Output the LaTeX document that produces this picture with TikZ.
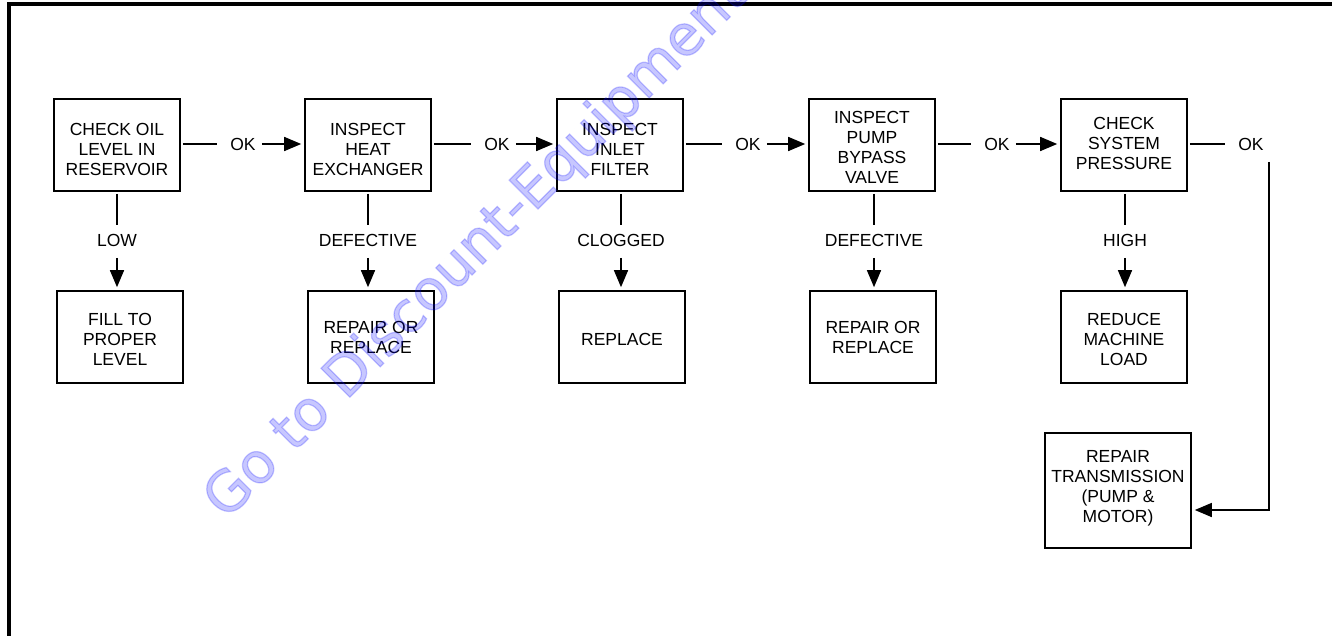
\documentclass[tikz,border=0pt]{standalone}
\usepackage{fontspec}
\setmainfont{Liberation Sans}
\newfontfamily\wmfont[FakeBold=2.2]{DejaVu Sans}
\usetikzlibrary{arrows.meta}
\begin{document}
\begin{tikzpicture}[x=1pt,y=-1pt,
  box/.style={draw, line width=1.6pt, minimum width=126pt, minimum height=92pt,
    inner sep=0pt, align=center, font=\fontsize{17.5}{20}\selectfont},
  txtup/.style={text depth=#1},
  txtdown/.style={text height=#1},
  lbl/.style={inner sep=0pt, font=\fontsize{17.5}{20}\selectfont},
  con/.style={line width=1.5pt},
  arr/.style={line width=1.5pt, -{Triangle[length=17pt,width=14pt]}},
  frame/.style={line width=4pt}]
\useasboundingbox (0,0) rectangle (1332,636);
\clip (0,0) rectangle (1332,636);
% frame
\draw[frame] (9,640) -- (9,4.5) -- (1336,4.5);
% top row
\node[box, txtdown=60.6pt] (c1) at (117,145) {CHECK OIL\\LEVEL IN\\RESERVOIR};
\node[box, txtdown=60.6pt] (c2) at (368,145) {INSPECT\\HEAT\\EXCHANGER};
\node[box, txtdown=60.6pt] (c3) at (620,145) {INSPECT\\INLET\\FILTER};
\node[box, txtdown=76.6pt] (c4) at (872,145) {INSPECT\\PUMP\\BYPASS\\VALVE};
\node[box, txtup=4pt] (c5) at (1124,145) {CHECK\\SYSTEM\\PRESSURE};
% bottom row
\node[box, txtdown=56.6pt] (r1) at (120,337) {FILL TO\\PROPER\\LEVEL};
\node[box] (r2) at (371,337) {REPAIR OR\\REPLACE};
\node[box, txtdown=16.6pt] (r3) at (622,337) {REPLACE};
\node[box] (r4) at (873,337) {REPAIR OR\\REPLACE};
\node[box, txtdown=56.6pt] (r5) at (1124,337) {REDUCE\\MACHINE\\LOAD};
\node[box, txtup=9pt, minimum width=146pt, minimum height=115pt] (t) at (1118,490.5)
  {REPAIR\\TRANSMISSION\\(PUMP \&\\MOTOR)};
% OK labels
\node[lbl] (k1) at (243,144) {OK};
\node[lbl] (k2) at (497,144) {OK};
\node[lbl] (k3) at (748,144) {OK};
\node[lbl] (k4) at (997,144) {OK};
\node[lbl] (k5) at (1251,144) {OK};
% vertical labels
\node[lbl] (l1) at (117,240) {LOW};
\node[lbl] (l2) at (368,240) {DEFECTIVE};
\node[lbl] (l3) at (621,240) {CLOGGED};
\node[lbl] (l4) at (874,240) {DEFECTIVE};
\node[lbl] (l5) at (1125,240) {HIGH};
% horizontal connectors
\foreach \a/\k/\b in {c1/k1/c2, c2/k2/c3, c3/k3/c4, c4/k4/c5} {
  \draw[con, shorten <=2pt, shorten >=13pt] (\a.east |- \k) -- (\k.west);
  \draw[arr, shorten <=6pt, shorten >=3pt] (\k.east) -- (\b.west |- \k);
}
\draw[con, shorten <=2pt, shorten >=13pt] (c5.east |- k5) -- (k5.west);
% vertical connectors
\foreach \i in {1,...,5} {
  \draw[con, shorten <=2pt, shorten >=8.5pt] (l\i |- c\i.south) -- (l\i.north);
  \draw[arr, shorten <=11.5pt, shorten >=3pt] (l\i.south) -- (l\i |- r\i.north);
}
% final OK path
\coordinate (v5) at (1269,162);
\coordinate (bend) at (1269,510);
\draw[arr, shorten >=3pt] (v5) -- (bend) -- (t.east |- bend);
% watermark
\node[rotate=45, anchor=base west, inner sep=0pt, text=blue, text opacity=0.22,
  font=\wmfont\fontsize{56}{56}\selectfont] (wm) at (226,521) {Go to Discount-Equipment.com};
\end{tikzpicture}
\end{document}
